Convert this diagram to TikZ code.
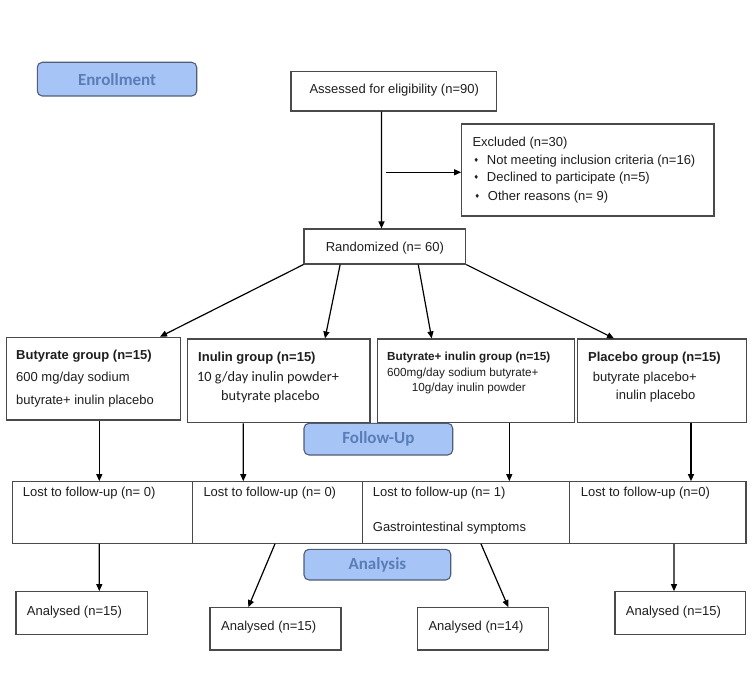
\documentclass[tikz,border=0pt]{standalone}
\usepackage{fontspec}
\setmainfont{Liberation Sans}
\newfontfamily\calib{Carlito}
\newfontfamily\dv{DejaVu Sans}
\usetikzlibrary{arrows.meta}
\definecolor{lblfill}{HTML}{A6C4F5}
\definecolor{lbldraw}{HTML}{4F5D75}
\definecolor{lbltext}{HTML}{5A7DB8}
\definecolor{boxdraw}{HTML}{4A4A4A}
\definecolor{txt}{HTML}{1E1E1E}
\newcommand\fR{\fontsize{13}{15}\selectfont}
\newcommand\fS{\fontsize{11.7}{14}\selectfont}
\newcommand\fC{\calib\fontsize{14.3}{16}\selectfont}
\newcommand\fL{\calib\bfseries\fontsize{17}{19}\selectfont}
\newcommand\bul{\makebox[13.2pt][l]{\raisebox{2pt}{\dv\fontsize{6}{6}\selectfont ♦}}}
\newcommand\mkbox[7]{\node[#1, minimum width={(#5)-(#3)}, minimum height={(#6)-(#4)}] (#2) at ({((#3)+(#5))/2},{((#4)+(#6))/2}) {#7};}
\tikzset{
  box/.style={draw=boxdraw, line width=1.1pt, rectangle, inner sep=0pt, fill=white},
  lbl/.style={draw=lbldraw, fill=lblfill, rounded corners=5pt, line width=1.1pt, text=lbltext, font=\fL, inner sep=0pt},
  tx/.style={anchor=base west, inner sep=0pt, text=txt, font=\fR},
  arr/.style={-{Triangle[length=7pt,width=6pt]}, line width=1.2pt, draw=black}
}
\begin{document}
\begin{tikzpicture}[x=1pt,y=-1pt]
\useasboundingbox (0,0) rectangle (752,695);
% boxes
\mkbox{lbl}{enr}{37.3}{62.3}{196.7}{96}{Enrollment}
\mkbox{box}{ass}{291}{71.7}{496.5}{111}{}
\mkbox{box}{exc}{461.7}{124}{714}{216}{}
\mkbox{box}{rnd}{304}{229}{465.7}{264}{}
\mkbox{box}{bg}{6.7}{337.3}{180.7}{420}{}
\mkbox{box}{ig}{187.7}{339}{370}{422.7}{}
\mkbox{box}{big}{377.3}{339}{574.3}{422.7}{}
\mkbox{box}{pg}{577.7}{339}{746.7}{422.7}{}
\mkbox{lbl}{fu}{304}{423.3}{452.7}{455}{Follow-Up}
\mkbox{box}{l1}{12.7}{481.7}{192.7}{543.3}{}
\mkbox{box}{l2}{192.7}{481.7}{362.3}{543.3}{}
\mkbox{box}{l3}{362.3}{481.7}{569.3}{543.3}{}
\mkbox{box}{l4}{569.3}{481.7}{746}{543.3}{}
\mkbox{lbl}{anl}{304}{549.3}{450.7}{580}{Analysis}
\mkbox{box}{a1}{16}{591.7}{147.3}{634.3}{}
\mkbox{box}{a2}{210}{607.7}{341}{650}{}
\mkbox{box}{a3}{417.7}{607.7}{548.3}{650}{}
\mkbox{box}{a4}{615}{591.7}{745.7}{634.3}{}
% texts
\node[tx] (tass) at (309.3,93.8) {Assessed for eligibility (n=90)};
\node[tx] (tex0) at (472.3,146.2) {Excluded (n=30)};
\node[tx] (tex1) at (473.5,164.5) {\bul Not meeting inclusion criteria (n=16)};
\node[tx] (tex2) at (473.5,181.8) {\bul Declined to participate (n=5)};
\node[tx] (tex3) at (474.5,200.5) {\bul Other reasons (n= 9)};
\node[tx, anchor=base] (trnd) at (384.85,251.8) {Randomized (n= 60)};
\node[tx, font=\fR\bfseries] (tbg1) at (16,359.5) {Butyrate group (n=15)};
\node[tx] (tbg2) at (16,381.8) {600 mg/day sodium};
\node[tx] (tbg3) at (16,404.5) {butyrate+ inulin placebo};
\node[tx, font=\fR\bfseries] (tig1) at (198,361.8) {Inulin group (n=15)};
\node[tx, font=\fC] (tig2) at (197,381.3) {10 g/day inulin powder+};
\node[tx, font=\fC] (tig3) at (221,400.6) {butyrate placebo};
\node[tx, font=\fS\bfseries] (tbi1) at (387,360.7) {Butyrate+ inulin group (n=15)};
\node[tx, font=\fS] (tbi2) at (387,376.7) {600mg/day sodium butyrate+};
\node[tx, font=\fS] (tbi3) at (411.7,391.3) {10g/day inulin powder};
\node[tx, font=\fR\bfseries] (tpg1) at (588,361.5) {Placebo group (n=15)};
\node[tx] (tpg2) at (592.7,381.2) {butyrate placebo+};
\node[tx] (tpg3) at (615.7,399.5) {inulin placebo};
\node[tx] (tl1) at (22.7,496.2) {Lost to follow-up (n= 0)};
\node[tx] (tl2) at (203.3,496.2) {Lost to follow-up (n= 0)};
\node[tx] (tl3) at (372.7,496.2) {Lost to follow-up (n= 1)};
\node[tx] (tl3b) at (372.7,531.8) {Gastrointestinal symptoms};
\node[tx] (tl4) at (580.7,496.2) {Lost to follow-up (n=0)};
\node[tx] (ta1) at (26.7,615.2) {Analysed (n=15)};
\node[tx] (ta2) at (221,630.5) {Analysed (n=15)};
\node[tx] (ta3) at (428.3,630.5) {Analysed (n=14)};
\node[tx] (ta4) at (625.7,615.2) {Analysed (n=15)};
% connectors
\draw[arr] ([xshift=-12.25pt]ass.south) -- ([xshift=-3.35pt]rnd.north);
\coordinate (exs) at (386,172.3);
\draw[arr] (exs) -- (exs -| exc.west);
\draw[arr] (rnd.south west) -- ([xshift=66.3pt]bg.north);
\draw[arr] ([xshift=36.7pt]rnd.south west) -- ([xshift=46.15pt]ig.north);
\draw[arr] ([xshift=-48pt]rnd.south east) -- ([xshift=-44.1pt]big.north);
\draw[arr] (rnd.south east) -- ([xshift=-48.2pt]pg.north);
\draw[arr] ([xshift=5.6pt]bg.south) -- ([xshift=-3.4pt]l1.north);
\draw[arr] ([xshift=-35.55pt]ig.south) -- ([xshift=-34.2pt]l2.north);
\draw[arr] ([xshift=33.5pt]big.south) -- ([xshift=43.5pt]l3.north);
\draw[arr] ([xshift=28.8pt]pg.south) -- ([xshift=33.35pt]l4.north);
\draw[arr] ([xshift=-3.4pt]l1.south) -- ([xshift=17.65pt]a1.north);
\draw[arr] ([xshift=-2.5pt]l2.south) -- ([xshift=-27.2pt]a2.north);
\draw[arr] ([xshift=15.2pt]l3.south) -- ([xshift=25.3pt]a3.north);
\draw[arr] ([xshift=16.35pt]l4.south) -- ([xshift=-6.35pt]a4.north);
\end{tikzpicture}
\end{document}
